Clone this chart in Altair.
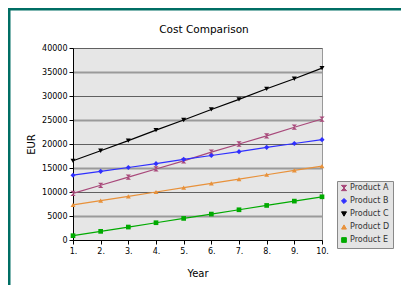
import altair as alt
import pandas as pd

years = [1, 2, 3, 4, 5, 6, 7, 8, 9, 10]
products = ["Product A", "Product B", "Product C", "Product D", "Product E"]
product_a = [9700, 11400, 13100, 14800, 16500, 18300, 20000, 21700, 23500, 25200]
product_b = [13500, 14300, 15100, 15900, 16800, 17600, 18400, 19300, 20100, 20900]
product_c = [16500, 18600, 20700, 22900, 25000, 27200, 29300, 31500, 33600, 35800]
product_d = [7300, 8200, 9100, 10000, 10900, 11800, 12700, 13600, 14500, 15400]
product_e = [900, 1800, 2700, 3600, 4500, 5400, 6300, 7200, 8100, 9000]
y_ticks = [0, 5000, 10000, 15000, 20000, 25000, 30000, 35000, 40000]
chart_title = "Cost Comparison"

colors = ["#a8487a", "#2f2fff", "#000000", "#e8913a", "#00aa00"]
shapes = ["M-1,-1L1,-1L-1,1L1,1Z", "diamond", "triangle-down", "triangle-up", "square"]
sizes = [28, 22, 32, 32, 40]

series = [product_a, product_b, product_c, product_d, product_e]
rows = []
for name, vals in zip(products, series):
    for yr, v in zip(years, vals):
        rows.append({"Year": yr, "EUR": v, "Product": name})
df = pd.DataFrame(rows)

font = "DejaVu Sans"

x_enc = alt.X("Year:Q", scale=alt.Scale(domain=[1, 10], nice=False, zero=False),
              axis=alt.Axis(values=years, labelExpr="datum.value + '.'", grid=False,
                            title="Year", labelFlush=False, tickSize=4, tickColor="#000",
                            domainColor="#000", labelFontSize=8, titleFontSize=10,
                            titleFontWeight="normal", titlePadding=13, labelColor="#000",
                            titleColor="#000", labelPadding=3))
y_enc = alt.Y("EUR:Q", scale=alt.Scale(domain=[0, 40000], nice=False),
              axis=alt.Axis(values=y_ticks, format="d", grid=True,
                            gridColor={"condition": {"test": "datum.value % 10000 === 0", "value": "#606060"},
                                       "value": "#9a9a9a"},
                            gridWidth={"condition": {"test": "datum.value % 10000 === 0", "value": 1},
                                       "value": 1.8},
                            title="EUR", tickSize=4, tickColor="#000",
                            domainColor="#000", labelFontSize=8, titleFontSize=10,
                            titleFontWeight="normal", titlePadding=5, labelColor="#000",
                            titleColor="#000", labelPadding=2))
legend_kw = dict(title=None, orient="none", legendX=264, legendY=133,
                 labelFontSize=8, symbolSize=25, rowPadding=3,
                 padding=3, strokeColor="#888", fillColor="#e4e4e4",
                 labelColor="#333", labelOffset=2, symbolStrokeWidth=1)
color_enc = alt.Color("Product:N", scale=alt.Scale(domain=products, range=colors),
                      legend=alt.Legend(**legend_kw))
shape_enc = alt.Shape("Product:N", scale=alt.Scale(domain=products, range=shapes),
                      legend=alt.Legend(**legend_kw))
size_enc = alt.Size("Product:N", scale=alt.Scale(domain=products, range=sizes), legend=None)

base = alt.Chart(df)
lines = base.mark_line(strokeWidth=1.2).encode(x=x_enc, y=y_enc, color=color_enc, detail="Product:N")
points = base.mark_point(filled=True, opacity=1).encode(x=x_enc, y=y_enc, color=color_enc,
                                                        shape=shape_enc, size=size_enc)

one = pd.DataFrame({"t": [chart_title]})
title_mark = alt.Chart(one).mark_text(fontSize=10.5, font=font, color="#000",
                                      baseline="middle", align="center").encode(
    text="t:N", x=alt.value(131), y=alt.value(-18))
frame_left = alt.Chart(one).mark_rule(color="#006e64", strokeWidth=3).encode(
    x=alt.value(-64), y=alt.value(-40), y2=alt.value(245))
frame_top = alt.Chart(one).mark_rule(color="#006e64", strokeWidth=3).encode(
    x=alt.value(-65), x2=alt.value(340), y=alt.value(-39))

chart = alt.layer(frame_left, frame_top, lines, points, title_mark).properties(
    width=249, height=192,
    autosize=alt.AutoSizeParams(type="none"),
    padding={"left": 65, "top": 40, "right": 79, "bottom": 45},
).configure(font=font, background="white").configure_view(
    fill="#e6e6e6", stroke="#999", strokeWidth=1
).configure_axis(labelFont=font, titleFont=font).configure_legend(labelFont=font)

chart.save("out.html", embed_options={"renderer": "svg", "actions": False})
